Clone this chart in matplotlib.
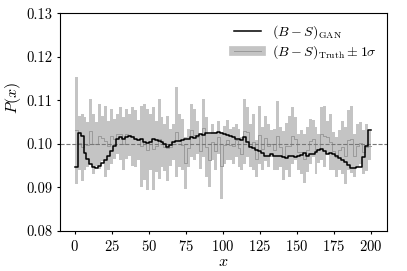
import matplotlib
matplotlib.use("Agg")
import matplotlib.pyplot as plt
import numpy as np
from matplotlib.lines import Line2D

plt.rcParams["mathtext.fontset"] = "cm"
plt.rcParams["font.family"] = "serif"
plt.rcParams["font.serif"] = ["cmr10", "DejaVu Serif"]
plt.rcParams["axes.formatter.use_mathtext"] = True

# 100 bins of width 2 on [0, 200]
bin_edges = np.arange(0, 202, 2)

truth = [
    0.1031, 0.1002, 0.0992, 0.1000, 0.0998, 0.1029, 0.1000, 0.1000, 0.1017, 0.1013,
    0.1006, 0.0996, 0.1017, 0.1012, 0.1023, 0.1023, 0.1000, 0.1023, 0.1021, 0.1017,
    0.1012, 0.1008, 0.0994, 0.1004, 0.0987, 0.1004, 0.0989, 0.0994, 0.1012, 0.1004,
    0.0992, 0.0990, 0.0992, 0.1004, 0.1027, 0.1008, 0.0998, 0.0956, 0.0990, 0.1031,
    0.1021, 0.1015, 0.0983, 0.1036, 0.0992, 0.0962, 0.1004, 0.0983, 0.1015, 0.0950,
    0.0998, 0.1008, 0.0998, 0.0996, 0.1008, 0.0990, 0.0977, 0.1029, 0.1027, 0.0996,
    0.1004, 0.0966, 0.1021, 0.0989, 0.1013, 0.0996, 0.1000, 0.0987, 0.1019, 0.0992,
    0.0973, 0.0994, 0.0994, 0.1019, 0.1012, 0.0981, 0.0981, 0.0966, 0.0987, 0.1006,
    0.1012, 0.0985, 0.0989, 0.1023, 0.1017, 0.1015, 0.1004, 0.0983, 0.0969, 0.0985,
    0.0992, 0.0973, 0.1008, 0.1010, 0.0973, 0.0996, 0.1002, 0.0981, 0.0992, 0.0996,
]

sigma = [
    0.0123, 0.0063, 0.0077, 0.0061, 0.0052, 0.0075, 0.0069, 0.0050, 0.0075, 0.0052,
    0.0082, 0.0057, 0.0063, 0.0046, 0.0046, 0.0061, 0.0061, 0.0057, 0.0048, 0.0067,
    0.0065, 0.0046, 0.0094, 0.0088, 0.0094, 0.0065, 0.0096, 0.0059, 0.0092, 0.0057,
    0.0054, 0.0075, 0.0042, 0.0042, 0.0103, 0.0061, 0.0059, 0.0059, 0.0044, 0.0061,
    0.0059, 0.0038, 0.0040, 0.0067, 0.0069, 0.0061, 0.0042, 0.0044, 0.0038, 0.0077,
    0.0044, 0.0046, 0.0036, 0.0042, 0.0038, 0.0044, 0.0038, 0.0075, 0.0057, 0.0050,
    0.0065, 0.0042, 0.0067, 0.0050, 0.0052, 0.0050, 0.0031, 0.0048, 0.0080, 0.0046,
    0.0057, 0.0055, 0.0071, 0.0065, 0.0050, 0.0042, 0.0050, 0.0057, 0.0052, 0.0052,
    0.0042, 0.0054, 0.0034, 0.0061, 0.0071, 0.0038, 0.0065, 0.0044, 0.0046, 0.0046,
    0.0061, 0.0065, 0.0069, 0.0078, 0.0050, 0.0050, 0.0048, 0.0050, 0.0054, 0.0034,
]

gan = [
    0.0946, 0.1025, 0.1018, 0.0980, 0.0965, 0.0953, 0.0946, 0.0945, 0.0950, 0.0955,
    0.0962, 0.0972, 0.0983, 0.0996, 0.1011, 0.1015, 0.1012, 0.1016, 0.1019, 0.1015,
    0.1012, 0.1009, 0.1010, 0.1005, 0.1003, 0.1005, 0.1010, 0.1008, 0.1007, 0.1005,
    0.1000, 0.0993, 0.0998, 0.1004, 0.1006, 0.1006, 0.1008, 0.1010, 0.1010, 0.1015,
    0.1013, 0.1019, 0.1022, 0.1020, 0.1024, 0.1025, 0.1024, 0.1026, 0.1028, 0.1025,
    0.1022, 0.1020, 0.1018, 0.1015, 0.1012, 0.1010, 0.1008, 0.1015, 0.1004, 0.0992,
    0.0990, 0.0987, 0.0984, 0.0978, 0.0973, 0.0971, 0.0977, 0.0972, 0.0973, 0.0972,
    0.0970, 0.0968, 0.0973, 0.0973, 0.0969, 0.0973, 0.0975, 0.0978, 0.0973, 0.0976,
    0.0977, 0.0982, 0.0986, 0.0989, 0.0983, 0.0976, 0.0979, 0.0976, 0.0972, 0.0968,
    0.0964, 0.0959, 0.0952, 0.0945, 0.0944, 0.0946, 0.0947, 0.0969, 0.0996, 0.1032,
]

truth = np.array(truth)
sigma = np.array(sigma)
gan = np.array(gan)

band_color = "#c4c4c4"
truth_color = "#9a9a9a"

fig = plt.figure(figsize=(4.07, 2.71), dpi=100)
ax = fig.add_axes([0.147, 0.148, 0.804, 0.803])

lo = np.append(truth - sigma, (truth - sigma)[-1])
hi = np.append(truth + sigma, (truth + sigma)[-1])
ax.fill_between(bin_edges, lo, hi, step="post", color=band_color, lw=0)
ax.step(bin_edges, np.append(truth, truth[-1]), where="post", color=truth_color, lw=0.7)
ax.axhline(0.1, color="#777777", ls="--", lw=0.8)
ax.step(bin_edges, np.append(gan, gan[-1]), where="post", color="black", lw=1.1)

ax.set_xlim(-10, 211)
ax.set_ylim(0.08, 0.13)
ax.set_xticks([0, 25, 50, 75, 100, 125, 150, 175, 200])
ax.set_yticks([0.08, 0.09, 0.10, 0.11, 0.12, 0.13])
ax.set_yticklabels(["0.08", "0.09", "0.10", "0.11", "0.12", "0.13"])
ax.tick_params(labelsize=10.5, length=2.5, pad=3)
ax.set_xlabel("$x$", fontsize=11.5)
ax.set_ylabel("$P(x)$", fontsize=11.5)
ax.xaxis.label.set_va("center")
ax.yaxis.label.set_va("center")
ax.xaxis.set_label_coords(0.5, -0.143)
ax.yaxis.set_label_coords(-0.144, 0.61)

handles = [
    Line2D([], [], color="black", lw=1.1),
    (Line2D([], [], color=band_color, lw=7), Line2D([], [], color=truth_color, lw=0.7)),
]
labels = [r"$(B-S)_{\rm GAN}$", r"$(B-S)_{\rm Truth}\pm 1\sigma$"]
ax.legend(handles, labels, loc="upper right", frameon=False, fontsize=10,
          handlelength=2.0, handletextpad=0.8, labelspacing=0.2,
          borderaxespad=0.3)

fig.savefig("out.png", dpi=100)
